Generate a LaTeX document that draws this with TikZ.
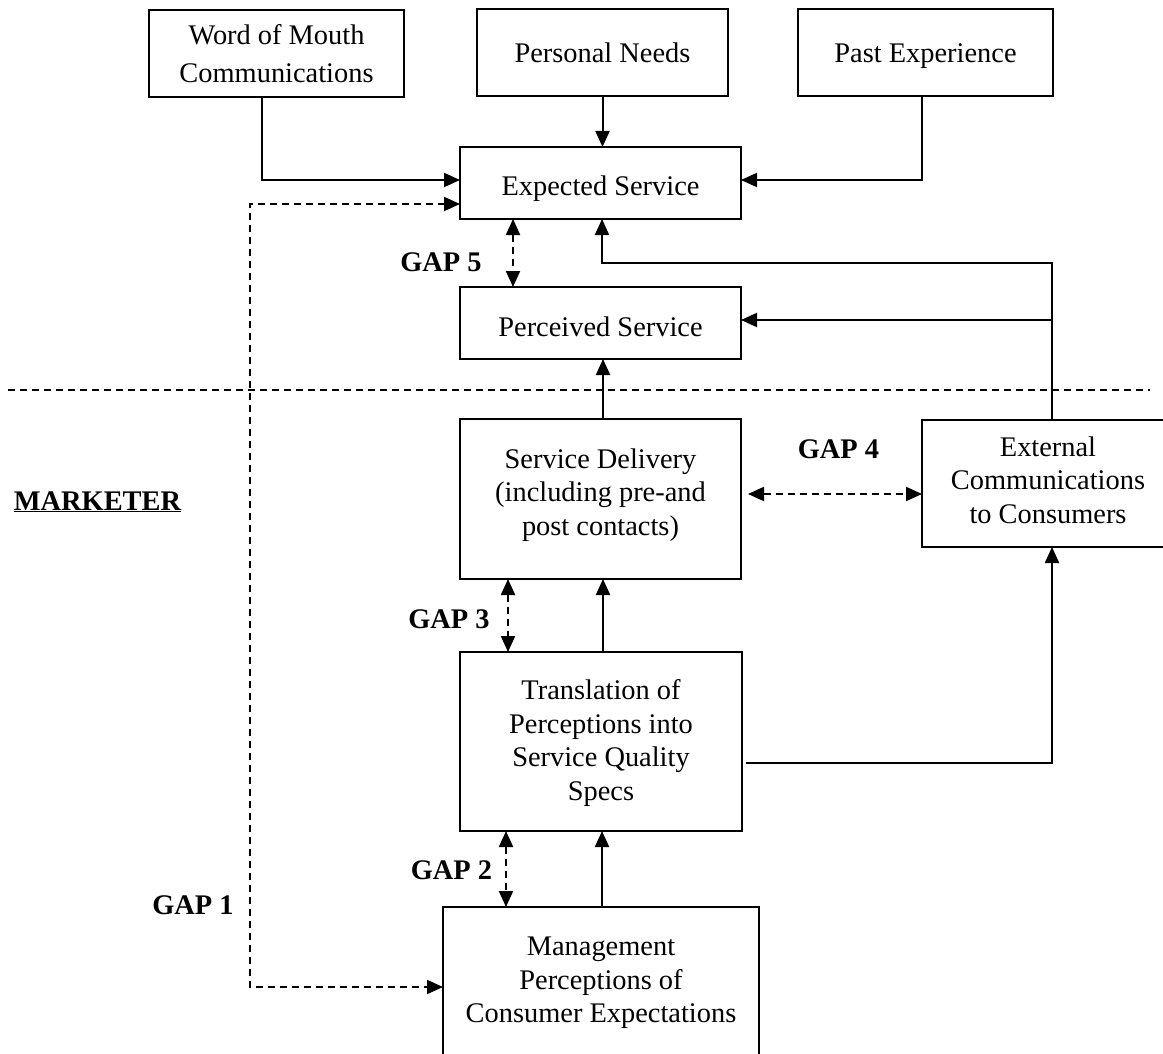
\documentclass[tikz,border=0pt]{standalone}
\usepackage{fontspec}
\setmainfont{Liberation Serif}
\usetikzlibrary{arrows.meta}
\tikzset{
  box/.style={draw, line width=2pt, inner sep=0pt, outer sep=0pt},
  txt/.style={align=center, inner sep=0pt, anchor=base, font=\fontsize{28.4pt}{33.4pt}\selectfont},
  arr/.style={line width=2pt, -{Triangle[length=16pt,width=14pt]}},
  gaparr/.style={line width=2pt, dash pattern=on 7pt off 5pt, {Triangle[length=16pt,width=14pt]}-{Triangle[length=16pt,width=14pt]}},
  gaplabel/.style={font=\fontsize{28.4pt}{33.4pt}\selectfont\bfseries, inner sep=0pt, anchor=base}
}
\begin{document}
\begin{tikzpicture}[x=1pt,y=-1pt]
\useasboundingbox (0,0) rectangle (1163,1054);
\clip (0,0) rectangle (1163,1054);
% boxes
\node[box, minimum width=255pt, minimum height=87pt] (wom) at (276.5,53.5) {};
\node[box, minimum width=251pt, minimum height=87pt] (pn) at (602.5,52.5) {};
\node[box, minimum width=255pt, minimum height=87pt] (pe) at (925.5,52.5) {};
\node[box, minimum width=281pt, minimum height=72pt] (es) at (600.5,183) {};
\node[box, minimum width=281pt, minimum height=72pt] (ps) at (600.5,323) {};
\node[box, minimum width=281pt, minimum height=160pt] (sd) at (600.5,499) {};
\node[box, minimum width=252pt, minimum height=127pt] (ec) at (1048,483.5) {};
\node[box, minimum width=282pt, minimum height=179pt] (tr) at (601,741.5) {};
\node[box, minimum width=316pt, minimum height=153pt] (mg) at (601,983.5) {};
% box texts (anchor = baseline of the last line)
\node[txt, font=\fontsize{28.4pt}{37.7pt}\selectfont] (twom) at (276.5,82.7) {Word of Mouth\\Communications};
\node[txt] (tpn) at (602.5,62.7) {Personal Needs};
\node[txt] (tpe) at (925.5,62.7) {Past Experience};
\node[txt] (tes) at (600.5,196) {Expected Service};
\node[txt] (tps) at (600.5,336) {Perceived Service};
\node[txt] (tsd) at (600.5,535) {Service Delivery\\(including pre-and\\post contacts)};
\node[txt] (tec) at (1048,523.3) {External\\Communications\\to Consumers};
\node[txt] (ttr) at (601,800) {Translation of\\Perceptions into\\Service Quality\\Specs};
\node[txt] (tmg) at (601,1022.7) {Management\\Perceptions of\\Consumer Expectations};
% labels
\node[gaplabel] (g5) at (441,271) {GAP 5};
\node[gaplabel] (g4) at (838.5,458.3) {GAP 4};
\node[gaplabel] (g3) at (449,628.3) {GAP 3};
\node[gaplabel] (g2) at (451.5,879.3) {GAP 2};
\node[gaplabel] (g1l) at (193,914.3) {GAP 1};
\node[gaplabel] (mk) at (97.5,510) {\underline{MARKETER}};
% divider
\coordinate (dl) at (8,390);
\coordinate (dr) at (1150,390);
\draw[line width=2pt, dash pattern=on 7pt off 5pt] (dl) -- (dr);
% solid connectors
\draw[arr] ([xshift=-14.5pt]wom.south) |- ([yshift=3pt]es.west);
\draw[arr] (pn.south) -- (pn.south |- es.north);
\draw[arr] ([xshift=-3.5pt]pe.south) |- ([yshift=3pt]es.east);
\coordinate (j1) at (1052,263);
\draw[arr] ([xshift=4pt]ec.north) -- (j1) -| ([xshift=1.5pt]es.south);
\draw[arr] (j1 |- ps.east) ++(0,-3) -- ([yshift=3pt]ps.east);
\draw[arr] ([xshift=2.5pt]sd.north) -- ([xshift=2.5pt]ps.south);
\draw[arr] ([xshift=2pt]tr.north) -- ([xshift=2pt]tr.north |- sd.south);
\draw[arr] ([xshift=1pt]mg.north) -- ([xshift=1pt]mg.north |- tr.south);
\draw[arr] ([xshift=4pt,yshift=-21.5pt]tr.east) -| ([xshift=4pt]ec.south);
% gap connectors
\draw[gaparr] ([xshift=-87.5pt]es.south) -- ([xshift=-87.5pt]ps.north);
\draw[gaparr] ([xshift=7pt,yshift=5pt]sd.east) -- ([yshift=5pt]sd.east -| ec.west);
\draw[gaparr] ([xshift=-92.5pt]sd.south) -- ([xshift=-92.5pt]sd.south |- tr.north);
\draw[gaparr] ([xshift=-95pt]tr.south) -- ([xshift=-95pt]tr.south |- mg.north);
\coordinate (g1) at (249.5,600);
\draw[gaparr] ([yshift=-21pt]es.west) -| (g1) |- ([yshift=-3.5pt]mg.west);
\end{tikzpicture}
\end{document}
